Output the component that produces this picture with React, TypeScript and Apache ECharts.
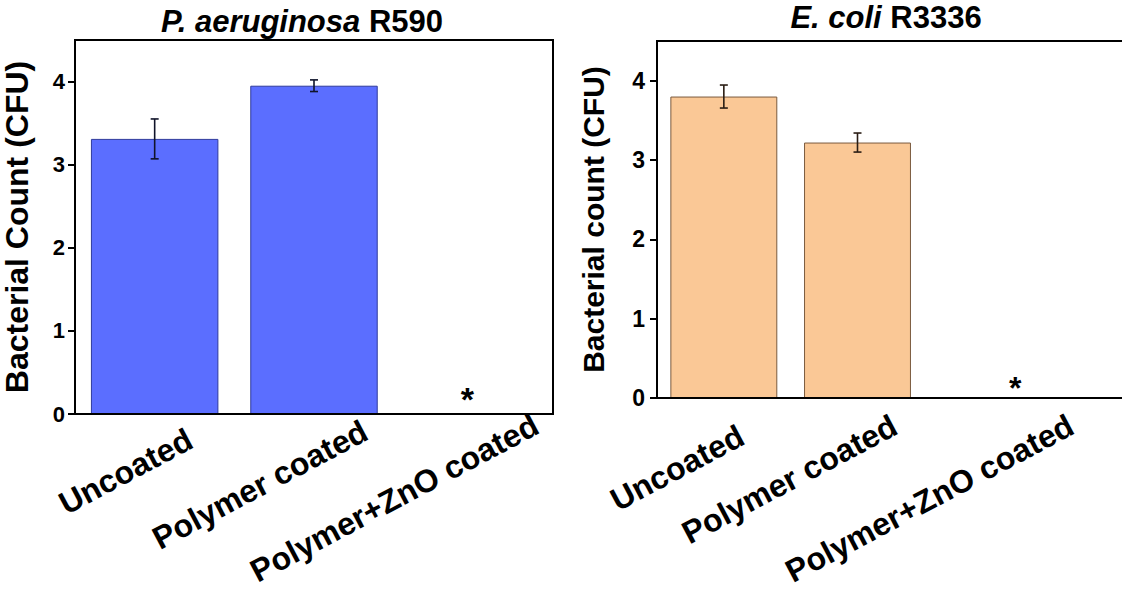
import React, { useEffect, useRef } from 'react';
import * as echarts from 'echarts';

const categories = ['Uncoated', 'Polymer coated', 'Polymer+ZnO coated'];
const paeruginosaValues = [3.31, 3.95, 0];
const paeruginosaErrors = [0.24, 0.07, 0];
const ecoliValues = [3.8, 3.22, 0];
const ecoliErrors = [0.145, 0.12, 0];
const significance = ['', '', '*'];
const yTicks = [0, 1, 2, 3, 4];
const yMin = 0;
const yMax = 4.5;
const yInterval = 1;

const FONT = "'Liberation Sans', Arial, Helvetica, sans-serif";

function errorSeries(values: number[], errors: number[], axisIndex: number, color: string) {
  return {
    type: 'custom',
    xAxisIndex: axisIndex,
    yAxisIndex: axisIndex,
    z: 10,
    silent: true,
    data: values.map((v, i) => [i, v - errors[i], v + errors[i], errors[i]]),
    renderItem: (params: any, api: any) => {
      if (api.value(3) <= 0) return null;
      const x = api.value(0);
      const lo = api.coord([x, api.value(1)]);
      const hi = api.coord([x, api.value(2)]);
      const hw = 4;
      const style = { stroke: color, lineWidth: 1.6 };
      return {
        type: 'group',
        children: [
          { type: 'line', shape: { x1: hi[0], y1: hi[1], x2: lo[0], y2: lo[1] }, style },
          { type: 'line', shape: { x1: hi[0] - hw, y1: hi[1], x2: hi[0] + hw, y2: hi[1] }, style },
          { type: 'line', shape: { x1: lo[0] - hw, y1: lo[1], x2: lo[0] + hw, y2: lo[1] }, style },
        ],
      };
    },
  };
}

function buildOption() {
  // label shifts along the rotated text (style only)
  const leftShift = [40, 58, 71];
  const rightShift = [20, 42, 80];
  const rightDrop = [false, false, true];
  const labelBase = {
    interval: 0,
    rotate: 28,
    margin: 45,
    fontSize: 32,
    fontWeight: 'bold',
    fontFamily: FONT,
    color: '#000',
  };
  const catData = (shift: number[]) =>
    categories.map((c, i) => ({ value: c, textStyle: { padding: [0, -shift[i], 0, 0] } }));

  const yAxisBase = (name: string, gridIndex: number, nameGap: number, nameSize: number, labelSize: number, labelMargin: number) => ({
    gridIndex,
    type: 'value',
    min: yMin,
    max: yMax,
    interval: yInterval,
    name,
    nameLocation: 'middle',
    nameGap,
    nameTextStyle: { fontSize: nameSize, fontWeight: 'bold', fontFamily: FONT, color: '#000' },
    axisLine: { show: true, lineStyle: { color: '#000', width: 2 } },
    axisTick: { show: true, inside: false, length: 7, lineStyle: { color: '#000', width: 2 }, customValues: yTicks },
    axisLabel: { fontSize: labelSize, fontWeight: 'bold', fontFamily: FONT, color: '#000', margin: labelMargin, customValues: yTicks },
    splitLine: { show: false },
    z: 5,
  });

  const marks = (fontSize: number, offset: number[]) =>
    significance.map((m) =>
      m
        ? { show: true, formatter: m, position: 'top', distance: 0, offset, fontSize, fontWeight: 'bold', fontFamily: FONT, color: '#000' }
        : { show: false }
    );
  const leftMarks = marks(34, [-6, 2]);
  const rightMarks = marks(32, [24, 6]);

  const titleStyle = (size: number) => ({
    fontSize: size,
    fontWeight: 'bold',
    fontFamily: FONT,
    color: '#000',
    rich: {
      i: { fontSize: size, fontWeight: 'bold', fontStyle: 'italic', fontFamily: FONT, color: '#000' },
      n: { fontSize: size, fontWeight: 'bold', fontFamily: FONT, color: '#000' },
    },
  });

  const gridCommon = { outerBoundsMode: 'none', containLabel: false };

  return {
    animation: false,
    backgroundColor: '#ffffff',
    title: [
      { text: '{i|P. aeruginosa} {n|R590}', left: 302, top: 6, padding: 0, textAlign: 'center', textStyle: titleStyle(31) },
      { text: '{i|E. coli} {n|R3336}', left: 886, top: 2, padding: 0, textAlign: 'center', textStyle: titleStyle(31) },
    ],
    grid: [
      { ...gridCommon, left: 75, top: 40, width: 478, height: 374, show: true, borderColor: '#000', borderWidth: 2, backgroundColor: 'transparent' },
      { ...gridCommon, left: 657, top: 41, width: 401, height: 357, show: false },
      { ...gridCommon, left: 657, top: 41, width: 505, height: 357, show: true, borderColor: '#000', borderWidth: 2, backgroundColor: 'transparent' },
    ],
    xAxis: [
      {
        gridIndex: 0,
        type: 'category',
        data: catData(leftShift),
        axisLine: { show: true, lineStyle: { color: '#000', width: 2 } },
        axisTick: { show: false },
        axisLabel: { ...labelBase, margin: 42 },
        z: 5,
      },
      {
        gridIndex: 1,
        type: 'category',
        data: catData(rightShift),
        axisLine: { show: true, lineStyle: { color: '#000', width: 2 } },
        axisTick: { show: false },
        axisLabel: {
          ...labelBase,
          lineHeight: 40,
          formatter: (v: string, i: number) => (rightDrop[i] ? '\n' + v : v),
        },
        z: 5,
      },
      { gridIndex: 2, type: 'value', show: false },
    ],
    yAxis: [
      yAxisBase('Bacterial Count (CFU)', 0, 42, 32, 22, 10),
      yAxisBase('Bacterial count (CFU)', 1, 49, 30, 23, 12),
      { gridIndex: 2, type: 'value', show: false },
    ],
    series: [
      {
        type: 'bar',
        xAxisIndex: 0,
        yAxisIndex: 0,
        barWidth: '80%',
        data: paeruginosaValues.map((v, i) => ({ value: v, label: leftMarks[i] })),
        itemStyle: { color: '#5b6eff', borderColor: '#2f3b9c', borderWidth: 1 },
      },
      errorSeries(paeruginosaValues, paeruginosaErrors, 0, '#10142a'),
      {
        type: 'bar',
        xAxisIndex: 1,
        yAxisIndex: 1,
        barWidth: '80%',
        data: ecoliValues.map((v, i) => ({ value: v, label: rightMarks[i] })),
        itemStyle: { color: '#fac896', borderColor: '#7a5a3e', borderWidth: 1 },
      },
      errorSeries(ecoliValues, ecoliErrors, 1, '#2a1d14'),
    ],
  };
}

export default function App() {
  const ref = useRef<HTMLDivElement | null>(null);
  useEffect(() => {
    if (!ref.current) return;
    const chart = echarts.init(ref.current, undefined, { renderer: 'svg' });
    chart.setOption(buildOption() as any);
    return () => chart.dispose();
  }, []);
  return (
    <div
      ref={ref}
      style={{ position: 'fixed', left: 0, top: 0, width: 1122, height: 591, background: '#fff' }}
    />
  );
}
